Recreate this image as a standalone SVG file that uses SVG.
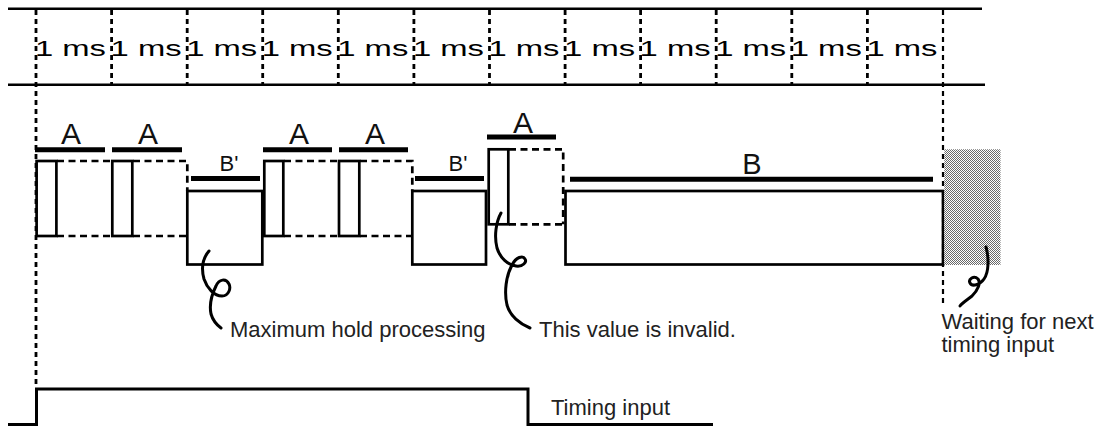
<svg xmlns="http://www.w3.org/2000/svg" width="1097" height="429" viewBox="0 0 1097 429">
<style>
.ln{stroke:#000;stroke-width:2.6;fill:none}
.box{stroke:#000;stroke-width:2.7;fill:#fff}
.dash{stroke:#000;stroke-width:2.7;fill:none;stroke-dasharray:7 4.5}
.div{stroke:#000;stroke-width:2.8;fill:none;stroke-dasharray:5 4}
.bar{stroke:#000;stroke-width:5;fill:none}
.ms{font-family:"Liberation Sans",Arial,sans-serif;font-size:22.5px;fill:#000}
.lbl{font-family:"Liberation Sans",Arial,sans-serif;fill:#111;text-anchor:middle}
.note{font-family:"Liberation Sans",Arial,sans-serif;font-size:22px;fill:#222}
.curl{stroke:#000;stroke-width:3;fill:none;stroke-linecap:round}
</style>
<defs>
<pattern id="stipple" width="2" height="2" patternUnits="userSpaceOnUse">
<rect x="0" y="0" width="2" height="2" fill="#fff"/>
<rect x="0" y="0" width="1" height="1" fill="#6a6a6a"/>
<rect x="1" y="1" width="1" height="1" fill="#6a6a6a"/>
</pattern>
</defs>

<g id="timeline">
<line class="ln" x1="8" y1="8.7" x2="982" y2="8.7"/>
<line class="ln" x1="8" y1="84.7" x2="985" y2="84.7"/>
<text class="ms" x="35" y="55.5" textLength="71" lengthAdjust="spacingAndGlyphs">1 ms</text>
<text class="ms" x="110.6" y="55.5" textLength="71" lengthAdjust="spacingAndGlyphs">1 ms</text>
<text class="ms" x="186.2" y="55.5" textLength="71" lengthAdjust="spacingAndGlyphs">1 ms</text>
<text class="ms" x="261.7" y="55.5" textLength="71" lengthAdjust="spacingAndGlyphs">1 ms</text>
<text class="ms" x="337.3" y="55.5" textLength="71" lengthAdjust="spacingAndGlyphs">1 ms</text>
<text class="ms" x="412.9" y="55.5" textLength="71" lengthAdjust="spacingAndGlyphs">1 ms</text>
<text class="ms" x="488.5" y="55.5" textLength="71" lengthAdjust="spacingAndGlyphs">1 ms</text>
<text class="ms" x="564.1" y="55.5" textLength="71" lengthAdjust="spacingAndGlyphs">1 ms</text>
<text class="ms" x="639.6" y="55.5" textLength="71" lengthAdjust="spacingAndGlyphs">1 ms</text>
<text class="ms" x="715.2" y="55.5" textLength="71" lengthAdjust="spacingAndGlyphs">1 ms</text>
<text class="ms" x="790.8" y="55.5" textLength="71" lengthAdjust="spacingAndGlyphs">1 ms</text>
<text class="ms" x="866.4" y="55.5" textLength="71" lengthAdjust="spacingAndGlyphs">1 ms</text>
</g>

<g id="slot-a1">
<line class="bar" x1="35" y1="149.7" x2="105" y2="149.7"/>
<text class="lbl" x="71" y="144.3" font-size="30">A</text>
<path class="dash" d="M57,161 H111 M57,236 H111"/>
<rect class="box" x="36.6" y="161" width="19.8" height="75"/>
</g>
<g id="slot-a2">
<line class="bar" x1="112" y1="149.7" x2="182" y2="149.7"/>
<text class="lbl" x="148" y="144.3" font-size="30">A</text>
<path class="dash" d="M133,161 H187.3 V191 M133,236 H187.3"/>
<rect class="box" x="112.3" y="161" width="20" height="75"/>
</g>
<g id="slot-b1">
<line class="bar" x1="191" y1="178.5" x2="260" y2="178.5"/>
<text class="lbl" x="229" y="170.7" font-size="22">B'</text>
<rect class="box" x="187.3" y="191" width="75" height="73.5"/>
</g>
<g id="slot-a3">
<line class="bar" x1="263" y1="149.7" x2="332" y2="149.7"/>
<text class="lbl" x="299" y="144.3" font-size="30">A</text>
<path class="dash" d="M284,161 H338 M284,236 H338"/>
<rect class="box" x="264.3" y="161" width="19" height="75"/>
</g>
<g id="slot-a4">
<line class="bar" x1="339" y1="149.7" x2="408" y2="149.7"/>
<text class="lbl" x="375" y="144.3" font-size="30">A</text>
<path class="dash" d="M360,161 H412.3 V191 M360,236 H412.3"/>
<rect class="box" x="339" y="161" width="20.3" height="75"/>
</g>
<g id="slot-b2">
<line class="bar" x1="415" y1="178.5" x2="484" y2="178.5"/>
<text class="lbl" x="458" y="170.7" font-size="22">B'</text>
<rect class="box" x="412.3" y="191" width="73.7" height="73.5"/>
</g>
<g id="slot-a5">
<line class="bar" x1="487" y1="137" x2="556" y2="137"/>
<text class="lbl" x="523" y="132.5" font-size="30">A</text>
<path class="dash" d="M509,149.3 H563.2 V224.3 M509,224.3 H563.2"/>
<rect class="box" x="488.7" y="149.3" width="19.6" height="75"/>
</g>
<g id="slot-b">
<line class="bar" x1="570" y1="179.2" x2="933" y2="179.2"/>
<text class="lbl" x="752" y="174" font-size="29">B</text>
<rect class="box" x="565.5" y="191" width="377.5" height="73.5"/>
</g>
<g id="waiting">
<rect x="944.3" y="149.3" width="56.2" height="115.7" fill="url(#stipple)"/>
</g>

<g id="notes">
<text class="note" x="230" y="337">Maximum hold processing</text>
<text class="note" x="539" y="337">This value is invalid.</text>
<text class="note" x="941.5" y="329">Waiting for next</text>
<text class="note" x="941.5" y="351.7">timing input</text>
</g>

<g id="timing-input">
<polyline class="ln" points="8,424.5 36.5,424.5 36.5,389 528,389 528,424.5 713,424.5" style="stroke-width:3"/>
<text class="note" x="551" y="415">Timing input</text>
</g>

<g id="connectors">
<line class="div" x1="36" y1="10" x2="36" y2="384"/>
<line class="div" x1="111.6" y1="10" x2="111.6" y2="84"/>
<line class="div" x1="187.2" y1="10" x2="187.2" y2="84"/>
<line class="div" x1="262.7" y1="10" x2="262.7" y2="84"/>
<line class="div" x1="338.3" y1="10" x2="338.3" y2="84"/>
<line class="div" x1="413.9" y1="10" x2="413.9" y2="84"/>
<line class="div" x1="489.5" y1="10" x2="489.5" y2="84"/>
<line class="div" x1="565.1" y1="10" x2="565.1" y2="84"/>
<line class="div" x1="640.6" y1="10" x2="640.6" y2="84"/>
<line class="div" x1="716.2" y1="10" x2="716.2" y2="84"/>
<line class="div" x1="791.8" y1="10" x2="791.8" y2="84"/>
<line class="div" x1="867.4" y1="10" x2="867.4" y2="84"/>
<line class="div" x1="943" y1="10" x2="943" y2="303" style="stroke-width:2.2"/>
<path class="curl" d="M209,251 C203,258 201,268 204,279 C207,288 214,296 222,296 C229,296 231,288 229,284 C226,278 219,279 216,286 C212,294 209,304 211,314 C213,321 217,325 221,328"/>
<path class="curl" d="M501,213 C496,222 494,236 497,248 C500,258 508,265 516,266 C523,267 527,262 525,259 C523,255 516,257 512,265 C506,276 504,292 507,305 C510,316 520,324 530,328"/>
<path class="curl" d="M986,247 C989,258 989,272 984,279 C980,285 972,287 970,283 C968,279 974,275 978,279 C981,283 978,290 972,296 C967,300 962,303 960,306"/>
</g>
</svg>
